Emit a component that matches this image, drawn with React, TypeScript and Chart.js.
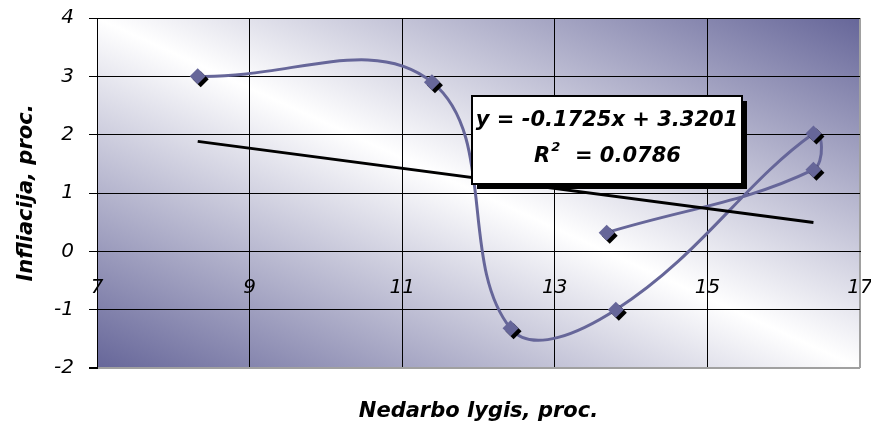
import React, { useEffect, useRef } from 'react';
import { Chart, registerables } from 'chart.js';
Chart.register(...registerables);

// Data
const unemployment = [8.32, 11.39, 12.42, 13.8, 16.39, 16.39, 13.68];
const inflation = [3.0, 2.9, -1.32, -1.0, 2.02, 1.4, 0.32];
const trendX = [8.32, 16.39];
const trendY = [1.885, 0.493];
const xMin = 7, xMax = 17, xStep = 2;
const yMin = -2, yMax = 4, yStep = 1;
const xTitle = 'Nedarbo lygis, proc.';
const yTitle = 'Infliacija, proc.';
const eqLine1 = 'y = -0.1725x + 3.3201';
const r2Text = '0.0786';

const FAMILY = "'DejaVu Sans', sans-serif";
const SERIES = '#666699';

const bgPlugin = {
  id: 'bgGrad',
  beforeDraw(chart: any) {
    const { ctx, chartArea: a } = chart;
    const w = a.right - a.left, h = a.bottom - a.top;
    const len = Math.sqrt(w * w + h * h);
    const dx = h / len, dy = -w / len;
    const proj = (w * h + h * w) / len;
    const g = ctx.createLinearGradient(a.left, a.bottom, a.left + dx * proj, a.bottom + dy * proj);
    g.addColorStop(0, SERIES);
    g.addColorStop(0.5, '#ffffff');
    g.addColorStop(1, SERIES);
    ctx.save();
    ctx.fillStyle = g;
    ctx.fillRect(a.left, a.top, w, h);
    ctx.restore();
  },
};

const shadowPlugin = {
  id: 'markerShadow',
  beforeDatasetDraw(chart: any, args: any) {
    if (args.index !== 0) return;
    const c = chart.ctx;
    c.save();
    c.shadowColor = '#000';
    c.shadowOffsetX = 3;
    c.shadowOffsetY = 3;
    c.shadowBlur = 0;
  },
  afterDatasetDraw(chart: any, args: any) {
    if (args.index !== 0) return;
    chart.ctx.restore();
  },
};

const eqPlugin = {
  id: 'eqBox',
  afterDraw(chart: any) {
    const ctx = chart.ctx;
    const bx = 472, by = 96, bw = 270, bh = 88;
    ctx.save();
    ctx.fillStyle = '#000';
    ctx.fillRect(bx + 5, by + 5, bw, bh);
    ctx.fillStyle = '#fff';
    ctx.fillRect(bx, by, bw, bh);
    ctx.lineWidth = 2;
    ctx.strokeStyle = '#000';
    ctx.strokeRect(bx, by, bw, bh);
    const cx = bx + bw / 2;
    ctx.fillStyle = '#000';
    ctx.textBaseline = 'middle';
    ctx.textAlign = 'center';
    ctx.font = `italic bold 21px ${FAMILY}`;
    ctx.fillText(eqLine1, cx, 121);
    ctx.textAlign = 'left';
    const big = `italic bold 21px ${FAMILY}`;
    const small = `italic bold 13px ${FAMILY}`;
    ctx.font = big;
    const wR = ctx.measureText('R').width;
    const rest = '  = ' + r2Text;
    const wRest = ctx.measureText(rest).width;
    ctx.font = small;
    const w2 = ctx.measureText('2').width;
    let x = cx - (wR + w2 + wRest) / 2;
    ctx.font = big;
    ctx.fillText('R', x, 157);
    x += wR + 1;
    ctx.font = small;
    ctx.fillText('2', x, 148);
    x += w2;
    ctx.font = big;
    ctx.fillText(rest, x, 157);
    ctx.restore();
  },
};

const zeroPad = (s: any) => {
  s.paddingLeft = 0;
  s.paddingRight = 0;
  s.paddingTop = 0;
  s.paddingBottom = 0;
};

export default function App() {
  const ref = useRef<HTMLCanvasElement>(null);
  useEffect(() => {
    const canvas = ref.current!;
    const pts = unemployment.map((x, i) => ({ x, y: inflation[i] }));
    const trend = trendX.map((x, i) => ({ x, y: trendY[i] }));
    const tickFont = { family: FAMILY, size: 20, style: 'italic' as const };
    const titleFont = { family: FAMILY, size: 21, style: 'italic' as const, weight: 'bold' as const };
    const chart = new Chart(canvas, {
      type: 'scatter',
      data: {
        datasets: [
          {
            data: pts,
            showLine: false,
            pointStyle: 'rectRot',
            pointRadius: 8,
            pointBackgroundColor: SERIES,
            pointBorderColor: SERIES,
            pointBorderWidth: 0,
          },
          {
            data: trend,
            showLine: true,
            borderColor: '#000',
            borderWidth: 3,
            pointRadius: 0,
            tension: 0,
          },
          {
            data: pts,
            showLine: true,
            borderColor: SERIES,
            borderWidth: 3,
            pointRadius: 0,
            tension: 0.4,
          },
        ],
      },
      options: {
        responsive: false,
        animation: false,
        layout: { padding: { top: 18, right: 11, left: 0, bottom: 0 } },
        plugins: { legend: { display: false }, tooltip: { enabled: false } },
        scales: {
          x: {
            type: 'linear',
            position: { y: 0 } as any,
            min: xMin,
            max: xMax,
            ticks: { stepSize: xStep, font: tickFont, color: '#000', padding: 24 },
            grid: {
              color: (c: any) => (c.tick && c.tick.value === xMax ? '#a0a0a0' : '#000'),
              lineWidth: (c: any) => (c.tick && c.tick.value === xMax ? 2 : 1),
              drawTicks: false,
            },
            border: { color: '#000', width: 1 },
            afterFit: zeroPad,
          },
          x2: {
            type: 'linear',
            position: 'bottom',
            min: xMin,
            max: xMax,
            ticks: { display: false },
            grid: { display: false, drawTicks: false },
            border: { display: false },
            title: { display: true, text: xTitle, font: titleFont, color: '#000', padding: { top: 0, bottom: 4 } },
            afterFit: (s: any) => { zeroPad(s); s.height = 60; },
          },
          y: {
            type: 'linear',
            position: 'left',
            min: yMin,
            max: yMax,
            ticks: { stepSize: yStep, font: tickFont, color: '#000', padding: 15 },
            grid: {
              color: (c: any) => (c.tick && c.tick.value === yMin ? '#a0a0a0' : '#000'),
              lineWidth: (c: any) => (c.tick && c.tick.value === yMin ? 2 : 1),
              tickLength: 8,
              tickColor: '#000',
            },
            border: { color: '#000', width: 1 },
            title: { display: true, text: yTitle, font: titleFont, color: '#000', padding: { top: 14, bottom: 0 } },
            afterFit: (s: any) => { zeroPad(s); s.width = 97; },
          },
        },
      } as any,
      plugins: [bgPlugin, shadowPlugin, eqPlugin],
    });
    return () => chart.destroy();
  }, []);
  return (
    <div style={{ position: 'absolute', left: 0, top: 0, width: 871, height: 428, background: '#fff' }}>
      <canvas ref={ref} width={871} height={428} style={{ display: 'block' }} />
    </div>
  );
}
